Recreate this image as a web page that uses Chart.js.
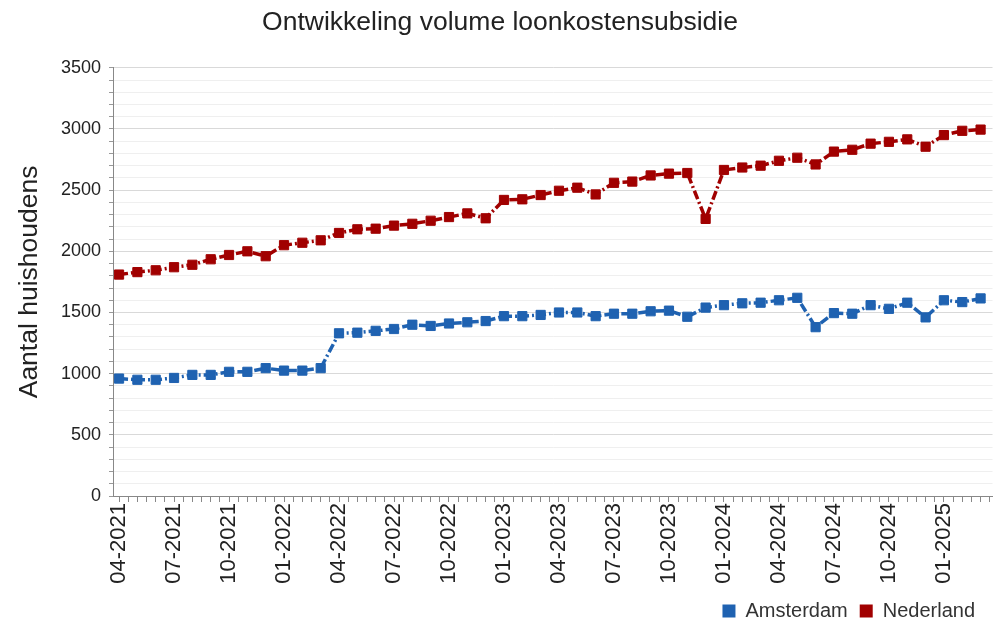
<!DOCTYPE html>
<html>
<head>
<meta charset="utf-8">
<title>Ontwikkeling volume loonkostensubsidie</title>
<script src="https://cdn.jsdelivr.net/npm/chart.js@4"></script>
<style>
  html, body { margin: 0; padding: 0; background: #fff; overflow: hidden; }
  .chart-container { position: relative; width: 1000px; height: 626px; }
</style>
</head>
<body>
<div class="chart-container">
  <canvas id="canvas_lks"></canvas>
</div>
<script>
// maanden 04-2021 t/m 03-2025
var months = [
  '04-2021','05-2021','06-2021','07-2021','08-2021','09-2021','10-2021','11-2021','12-2021',
  '01-2022','02-2022','03-2022','04-2022','05-2022','06-2022','07-2022','08-2022','09-2022',
  '10-2022','11-2022','12-2022','01-2023','02-2023','03-2023','04-2023','05-2023','06-2023',
  '07-2023','08-2023','09-2023','10-2023','11-2023','12-2023','01-2024','02-2024','03-2024',
  '04-2024','05-2024','06-2024','07-2024','08-2024','09-2024','10-2024','11-2024','12-2024',
  '01-2025','02-2025','03-2025'
];

var amsterdam = [
  960, 950, 950, 965, 990, 990, 1015, 1015, 1045, 1025, 1025, 1045,
  1330, 1335, 1350, 1365, 1400, 1390, 1410, 1420, 1430, 1470, 1470, 1480,
  1500, 1500, 1470, 1490, 1490, 1510, 1515, 1465, 1540, 1560, 1575, 1580,
  1600, 1620, 1380, 1495, 1490, 1560, 1530, 1580, 1460, 1600, 1585, 1615
];

var nederland = [
  1810, 1830, 1845, 1870, 1890, 1935, 1970, 2000, 1960, 2050, 2070, 2090,
  2150, 2180, 2185, 2210, 2225, 2250, 2280, 2310, 2270, 2420, 2425, 2460,
  2495, 2520, 2465, 2560, 2570, 2620, 2635, 2640, 2265, 2665, 2685, 2700,
  2740, 2765, 2710, 2815, 2830, 2880, 2895, 2915, 2855, 2950, 2985, 2995
];

var yTicks = [0, 500, 1000, 1500, 2000, 2500, 3000, 3500];

var blue = '#1f62b1';
var red = '#a10000';
var font = "'Liberation Sans', Arial, sans-serif";

function toPoints(values){
  return values.map(function(v, i){ return {x: i, y: v}; });
}

function makeDataset(label, values, color){
  return {
    label: label,
    data: toPoints(values),
    borderColor: color,
    backgroundColor: color,
    borderWidth: 3.5,
    borderDash: [9, 3, 2, 3],
    pointStyle: 'rect',
    pointRadius: 6.5,
    pointHoverRadius: 6.5,
    pointBorderWidth: 1,
    pointBorderColor: color,
    fill: false,
    tension: 0
  };
}

// legend iets naar links schuiven
var legendShift = {
  id: 'legendShift',
  afterLayout: function(chart){
    if (chart.legend) chart.legend.right -= 13;
  }
};

window.onload = function() {
  var ctx = document.getElementById('canvas_lks').getContext('2d');
  new Chart(ctx, {
    type: 'line',
    data: {
      datasets: [
        makeDataset('Amsterdam', amsterdam, blue),
        makeDataset('Nederland', nederland, red)
      ]
    },
    plugins: [legendShift],
    options: {
      responsive: true,
      maintainAspectRatio: false,
      animation: false,
      layout: { padding: { left: 0, right: 0, top: 0, bottom: -5 } },
      plugins: {
        title: {
          display: true,
          text: 'Ontwikkeling volume loonkostensubsidie',
          color: '#222',
          font: { family: font, size: 26.5, weight: 'normal' },
          padding: { top: 7, bottom: 29 }
        },
        legend: {
          position: 'bottom',
          align: 'end',
          labels: {
            color: '#333',
            font: { family: font, size: 20 },
            boxWidth: 13,
            boxHeight: 13,
            padding: 12,
            generateLabels: function(chart){
              var items = Chart.defaults.plugins.legend.labels.generateLabels(chart);
              items.forEach(function(it){
                it.lineWidth = 0;
                it.lineDash = [];
              });
              return items;
            }
          }
        },
        tooltip: { enabled: false }
      },
      scales: {
        x: {
          type: 'linear',
          min: -0.33,
          max: 47.65,
          afterBuildTicks: function(scale){
            var t = [];
            for (var i = 0; i <= 95; i++) t.push({value: i / 2});
            scale.ticks = t;
          },
          afterFit: function(scale){
            scale.height = 93;
            scale.paddingLeft = 0;
            scale.paddingRight = 0;
          },
          border: { color: '#888' },
          grid: { drawOnChartArea: false, drawTicks: true, tickLength: 6, tickColor: '#888' },
          ticks: {
            autoSkip: false,
            minRotation: 90,
            maxRotation: 90,
            padding: 1,
            color: '#222',
            font: { family: font, size: 22 },
            callback: function(value){
              if (value % 3 === 0 && months[value]) return months[value];
              return '';
            }
          }
        },
        y: {
          min: 0,
          max: 3500,
          afterBuildTicks: function(scale){
            var t = [];
            for (var v = 0; v <= 3500; v += 100) t.push({value: v});
            scale.ticks = t;
          },
          afterFit: function(scale){ scale.width = 113; },
          border: { color: '#888' },
          grid: {
            color: function(c){ return c.tick && c.tick.value % 500 === 0 ? '#d9d9d9' : '#efefef'; },
            tickColor: '#999',
            tickLength: 4
          },
          title: {
            display: true,
            text: 'Aantal huishoudens',
            color: '#222',
            font: { family: font, size: 26.5 },
            padding: { top: 14, bottom: 0 }
          },
          ticks: {
            autoSkip: false,
            color: '#222',
            padding: 8,
            font: { family: font, size: 18 },
            callback: function(value){
              return yTicks.indexOf(value) >= 0 ? value : '';
            }
          }
        }
      }
    }
  });
};
</script>
</body>
</html>
